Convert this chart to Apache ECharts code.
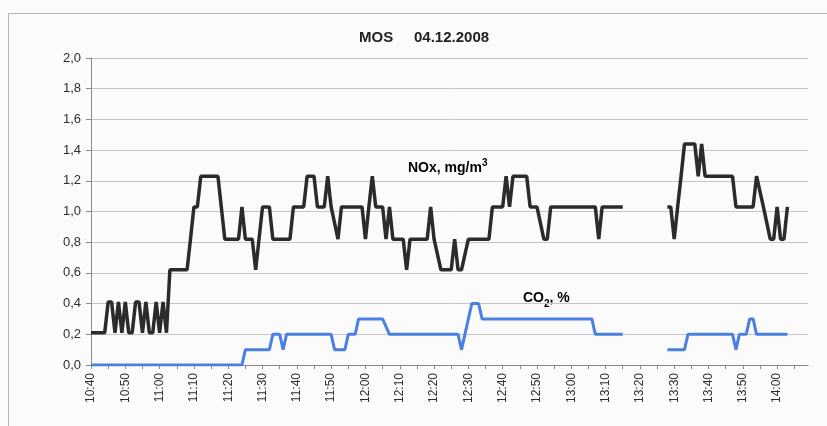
<!DOCTYPE html>
<html>
<head>
<meta charset="utf-8">
<script src="https://cdn.jsdelivr.net/npm/echarts@6/dist/echarts.min.js"></script>
<style>
  html, body { margin: 0; padding: 0; background: #fbfbfb; }
  #chart { width: 827px; height: 426px; }
</style>
</head>
<body>
<div id="chart"></div>
<script>
// measurement start 10:40, x axis runs in minutes from there
const startClock = '10:40';
const axisMax = 209;

// NOx, mg/m3 (null = no data)
const noxTime = ['10:40','10:44','10:45','10:46','10:47','10:48','10:49','10:50','10:51','10:52',
  '10:53','10:54','10:55','10:56','10:57','10:58','10:59','11:00','11:01','11:02',
  '11:03','11:08','11:09','11:10','11:11','11:12','11:17','11:19','11:23','11:24',
  '11:25','11:27','11:28','11:30','11:32','11:33','11:38','11:39','11:42','11:43',
  '11:45','11:46','11:48','11:49','11:50','11:52','11:53','11:59','12:00','12:01',
  '12:02','12:03','12:05','12:06','12:07','12:08','12:11','12:12','12:13','12:18',
  '12:19','12:20','12:22','12:25','12:26','12:27','12:28','12:30','12:36','12:37',
  '12:40','12:41','12:42','12:43','12:47','12:48','12:50','12:52','12:53','12:54',
  '13:07','13:08','13:09','13:15','13:20','13:28','13:29','13:30','13:31','13:32',
  '13:33','13:36','13:37','13:38','13:39','13:47','13:48','13:53','13:54','13:56',
  '13:58','13:59','14:00','14:01','14:02','14:03'];
const noxValue = [0.21,0.21,0.41,0.41,0.21,0.41,0.21,0.41,0.21,0.21,
  0.41,0.41,0.21,0.41,0.21,0.21,0.41,0.21,0.41,0.21,
  0.62,0.62,0.82,1.03,1.03,1.23,1.23,0.82,0.82,1.03,
  0.82,0.82,0.62,1.03,1.03,0.82,0.82,1.03,1.03,1.23,
  1.23,1.03,1.03,1.23,1.03,0.82,1.03,1.03,0.82,1.03,
  1.23,1.03,1.03,0.82,1.03,0.82,0.82,0.62,0.82,0.82,
  1.03,0.82,0.62,0.62,0.82,0.62,0.62,0.82,0.82,1.03,
  1.03,1.23,1.03,1.23,1.23,1.03,1.03,0.82,0.82,1.03,
  1.03,0.82,1.03,1.03,null,1.03,1.03,0.82,1.03,1.23,
  1.44,1.44,1.23,1.44,1.23,1.23,1.03,1.03,1.23,1.03,
  0.82,0.82,1.03,0.82,0.82,1.03];

// CO2, %
const co2Time = ['10:40','11:24','11:25','11:32','11:33','11:35','11:36','11:37','11:50','11:51',
  '11:54','11:55','11:57','11:58','12:05','12:07','12:27','12:28','12:31','12:33',
  '12:34','13:06','13:07','13:15','13:20','13:28','13:33','13:34','13:47','13:48',
  '13:49','13:51','13:52','13:53','13:54','14:03'];
const co2Value = [0,0,0.1,0.1,0.2,0.2,0.1,0.2,0.2,0.1,
  0.1,0.2,0.2,0.3,0.3,0.2,0.2,0.1,0.4,0.4,
  0.3,0.3,0.2,0.2,null,0.1,0.1,0.2,0.2,0.1,
  0.2,0.2,0.3,0.3,0.2,0.2];

const yTicks = ['0,0','0,2','0,4','0,6','0,8','1,0','1,2','1,4','1,6','1,8','2,0'];

function toMin(s) {
  const p = s.split(':').map(Number), q = startClock.split(':').map(Number);
  return p[0] * 60 + p[1] - (q[0] * 60 + q[1]);
}
function toClock(m) {
  const q = startClock.split(':').map(Number);
  const t = q[0] * 60 + q[1] + m;
  return Math.floor(t / 60) + ':' + String(t % 60).padStart(2, '0');
}
function pairs(times, vals) {
  return times.map((t, i) => [toMin(t), vals[i] == null ? '-' : vals[i]]);
}

const font = '"Liberation Sans", Arial, sans-serif';
const chart = echarts.init(document.getElementById('chart'));
chart.setOption({
  backgroundColor: '#fbfbfb',
  animation: false,
  title: {
    text: 'MOS     04.12.2008',
    left: 354,
    top: 25,
    textStyle: { fontFamily: font, fontSize: 15, fontWeight: 'bold', color: '#222' }
  },
  grid: { left: 91, right: 19, top: 58, bottom: 61 },
  xAxis: {
    type: 'value',
    min: 0,
    max: axisMax,
    interval: 5,
    axisLine: { lineStyle: { color: '#8a8a8a', width: 1 } },
    axisTick: { show: true, length: 4, lineStyle: { color: '#8a8a8a' } },
    splitLine: { show: false },
    axisLabel: {
      rotate: 90,
      margin: 8,
      showMaxLabel: false,
      fontFamily: font,
      fontSize: 12,
      color: '#2e2e2e',
      formatter: v => (v % 10 === 0 ? toClock(v) : '')
    }
  },
  yAxis: {
    type: 'value',
    min: 0,
    max: 2,
    interval: 0.2,
    axisLine: { show: true, lineStyle: { color: '#8a8a8a', width: 1 } },
    axisTick: { show: true, length: 5, lineStyle: { color: '#8a8a8a' } },
    splitLine: { lineStyle: { color: '#c4c4c4', width: 1 } },
    axisLabel: {
      margin: 10,
      fontFamily: font,
      fontSize: 13,
      color: '#2e2e2e',
      formatter: (v) => yTicks[Math.round(v / 0.2)]
    }
  },
  series: [
    {
      name: 'NOx',
      type: 'line',
      showSymbol: false,
      data: pairs(noxTime, noxValue),
      lineStyle: { color: '#2b2b2b', width: 3.5 },
      itemStyle: { color: '#2b2b2b' },
      z: 3
    },
    {
      name: 'CO2',
      type: 'line',
      showSymbol: false,
      data: pairs(co2Time, co2Value),
      lineStyle: { color: '#4a80e0', width: 3 },
      itemStyle: { color: '#4a80e0' },
      z: 2
    }
  ],
  graphic: [
    {
      type: 'rect',
      silent: true,
      shape: { x: 8.5, y: 13.5, width: 840, height: 440 },
      style: { fill: 'none', stroke: '#b5b5b5', lineWidth: 1 }
    },
    {
      type: 'text',
      left: 408,
      top: 158,
      style: {
        text: '{a|NOx, mg/m}{s|3}',
        rich: {
          a: { fontFamily: font, fontSize: 14, fontWeight: 'bold', color: '#2b2b2b', lineHeight: 17, verticalAlign: 'bottom' },
          s: { fontFamily: font, fontSize: 10, fontWeight: 'bold', color: '#2b2b2b', verticalAlign: 'top' }
        }
      }
    },
    {
      type: 'text',
      left: 523,
      top: 291,
      style: {
        text: '{a|CO}{s|2}{a|, %}',
        rich: {
          a: { fontFamily: font, fontSize: 14, fontWeight: 'bold', color: '#4a80e0', lineHeight: 18, verticalAlign: 'top' },
          s: { fontFamily: font, fontSize: 10, fontWeight: 'bold', color: '#4a80e0', verticalAlign: 'bottom' }
        }
      }
    }
  ]
});
</script>
</body>
</html>
